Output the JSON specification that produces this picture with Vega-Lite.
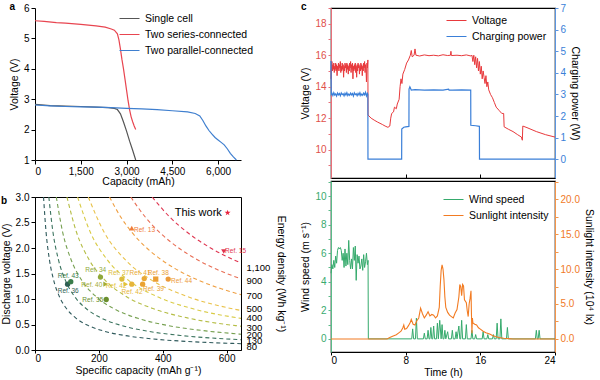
{
"$schema": "https://vega.github.io/schema/vega-lite/v6.json",
"padding": {"left": 0, "top": 1, "right": 0, "bottom": 0},
"config": {
  "font": "Liberation Sans",
  "axis": {"grid": false, "labelFontSize": 10, "titleFontSize": 10.5, "titleFontWeight": "normal", "tickColor": "black", "domainColor": "black", "labelColor": "black", "titleColor": "black", "tickSize": 4, "labelPadding": 2, "titlePadding": 4},
  "legend": {"labelFontSize": 10.5, "labelColor": "black", "symbolType": "stroke", "symbolStrokeWidth": 2, "symbolSize": 400, "rowPadding": 0, "labelOffset": 5},
  "title": {"anchor": "start", "frame": "bounds", "fontSize": 10, "fontWeight": "bold", "offset": -9},
  "line": {"strokeWidth": 1}
},
"datasets": {
  "a": [
    {"s":"Single cell","c":0,"v":2.83},{"s":"Single cell","c":500,"v":2.79},{"s":"Single cell","c":1000,"v":2.77},{"s":"Single cell","c":1500,"v":2.76},{"s":"Single cell","c":2000,"v":2.74},{"s":"Single cell","c":2400,"v":2.72},{"s":"Single cell","c":2600,"v":2.70},{"s":"Single cell","c":2700,"v":2.66},{"s":"Single cell","c":2800,"v":2.52},{"s":"Single cell","c":2900,"v":2.25},{"s":"Single cell","c":3000,"v":1.95},{"s":"Single cell","c":3100,"v":1.62},{"s":"Single cell","c":3200,"v":1.32},{"s":"Single cell","c":3300,"v":1.0},
    {"s":"Two series-connected","c":0,"v":5.58},{"s":"Two series-connected","c":300,"v":5.56},{"s":"Two series-connected","c":700,"v":5.52},{"s":"Two series-connected","c":1000,"v":5.50},{"s":"Two series-connected","c":1500,"v":5.46},{"s":"Two series-connected","c":2000,"v":5.41},{"s":"Two series-connected","c":2300,"v":5.37},{"s":"Two series-connected","c":2500,"v":5.31},{"s":"Two series-connected","c":2600,"v":5.27},{"s":"Two series-connected","c":2700,"v":5.15},{"s":"Two series-connected","c":2750,"v":4.95},{"s":"Two series-connected","c":2800,"v":4.65},{"s":"Two series-connected","c":2850,"v":4.30},{"s":"Two series-connected","c":2900,"v":4.00},{"s":"Two series-connected","c":2950,"v":3.65},{"s":"Two series-connected","c":3000,"v":3.30},{"s":"Two series-connected","c":3050,"v":2.95},{"s":"Two series-connected","c":3100,"v":2.65},{"s":"Two series-connected","c":3150,"v":2.42},{"s":"Two series-connected","c":3200,"v":2.26},{"s":"Two series-connected","c":3250,"v":2.12},{"s":"Two series-connected","c":3300,"v":2.0},
    {"s":"Two parallel-connected","c":0,"v":2.81},{"s":"Two parallel-connected","c":500,"v":2.78},{"s":"Two parallel-connected","c":1000,"v":2.76},{"s":"Two parallel-connected","c":1500,"v":2.75},{"s":"Two parallel-connected","c":2000,"v":2.74},{"s":"Two parallel-connected","c":2500,"v":2.72},{"s":"Two parallel-connected","c":3000,"v":2.70},{"s":"Two parallel-connected","c":3500,"v":2.68},{"s":"Two parallel-connected","c":4000,"v":2.66},{"s":"Two parallel-connected","c":4500,"v":2.62},{"s":"Two parallel-connected","c":5000,"v":2.58},{"s":"Two parallel-connected","c":5250,"v":2.53},{"s":"Two parallel-connected","c":5400,"v":2.45},{"s":"Two parallel-connected","c":5500,"v":2.30},{"s":"Two parallel-connected","c":5600,"v":2.12},{"s":"Two parallel-connected","c":5700,"v":1.97},{"s":"Two parallel-connected","c":5800,"v":1.85},{"s":"Two parallel-connected","c":5900,"v":1.74},{"s":"Two parallel-connected","c":6000,"v":1.66},{"s":"Two parallel-connected","c":6100,"v":1.58},{"s":"Two parallel-connected","c":6200,"v":1.50},{"s":"Two parallel-connected","c":6300,"v":1.37},{"s":"Two parallel-connected","c":6400,"v":1.22},{"s":"Two parallel-connected","c":6500,"v":1.10},{"s":"Two parallel-connected","c":6600,"v":1.0}
  ],
  "curves": [
    {"E":80,"c":26.7,"v":3},{"E":80,"c":34.7,"v":2.308},{"E":80,"c":45.1,"v":1.775},{"E":80,"c":58.6,"v":1.365},{"E":80,"c":76.2,"v":1.05},{"E":80,"c":99,"v":0.808},{"E":80,"c":128.8,"v":0.621},{"E":80,"c":167.4,"v":0.478},{"E":80,"c":217.4,"v":0.368},{"E":80,"c":282.7,"v":0.283},{"E":80,"c":367,"v":0.218},{"E":80,"c":479,"v":0.167},{"E":80,"c":620.2,"v":0.129},{"E":80,"c":645,"v":0.124},
    {"E":130,"c":43.3,"v":3},{"E":130,"c":56.3,"v":2.308},{"E":130,"c":73.2,"v":1.775},{"E":130,"c":95.2,"v":1.365},{"E":130,"c":123.8,"v":1.05},{"E":130,"c":160.9,"v":0.808},{"E":130,"c":209.3,"v":0.621},{"E":130,"c":272,"v":0.478},{"E":130,"c":353.3,"v":0.368},{"E":130,"c":459.4,"v":0.283},{"E":130,"c":596.3,"v":0.218},{"E":130,"c":645,"v":0.2016},
    {"E":200,"c":66.7,"v":3},{"E":200,"c":86.7,"v":2.308},{"E":200,"c":112.7,"v":1.775},{"E":200,"c":146.5,"v":1.365},{"E":200,"c":190.5,"v":1.05},{"E":200,"c":247.5,"v":0.808},{"E":200,"c":322.1,"v":0.621},{"E":200,"c":418.4,"v":0.478},{"E":200,"c":543.5,"v":0.368},{"E":200,"c":645,"v":0.31},
    {"E":300,"c":100,"v":3},{"E":300,"c":130,"v":2.308},{"E":300,"c":169,"v":1.775},{"E":300,"c":219.8,"v":1.365},{"E":300,"c":285.7,"v":1.05},{"E":300,"c":371.3,"v":0.808},{"E":300,"c":483.1,"v":0.621},{"E":300,"c":627.6,"v":0.478},{"E":300,"c":645,"v":0.465},
    {"E":400,"c":133.3,"v":3},{"E":400,"c":173.3,"v":2.308},{"E":400,"c":225.4,"v":1.775},{"E":400,"c":293,"v":1.365},{"E":400,"c":381,"v":1.05},{"E":400,"c":495,"v":0.808},{"E":400,"c":645,"v":0.62},
    {"E":500,"c":166.7,"v":3},{"E":500,"c":216.6,"v":2.308},{"E":500,"c":281.7,"v":1.775},{"E":500,"c":366.3,"v":1.365},{"E":500,"c":476.2,"v":1.05},{"E":500,"c":618.8,"v":0.808},{"E":500,"c":645,"v":0.775},
    {"E":700,"c":233.3,"v":3},{"E":700,"c":269.2,"v":2.6},{"E":700,"c":303.3,"v":2.308},{"E":700,"c":350,"v":2.0},{"E":700,"c":394.4,"v":1.775},{"E":700,"c":437.5,"v":1.6},{"E":700,"c":512.8,"v":1.365},{"E":700,"c":583.3,"v":1.2},{"E":700,"c":645,"v":1.085},
    {"E":900,"c":300,"v":3},{"E":900,"c":346.2,"v":2.6},{"E":900,"c":390,"v":2.308},{"E":900,"c":450,"v":2.0},{"E":900,"c":507,"v":1.775},{"E":900,"c":562.5,"v":1.6},{"E":900,"c":645,"v":1.395},
    {"E":1100,"c":366.7,"v":3},{"E":1100,"c":423.1,"v":2.6},{"E":1100,"c":476.6,"v":2.308},{"E":1100,"c":550,"v":2.0},{"E":1100,"c":619.7,"v":1.775},{"E":1100,"c":645,"v":1.705}
  ],
  "refs": [
    {"id":"r36","label":"Ref. 36","c":102,"v":1.29,"lc":104,"lv":1.16},
    {"id":"r43","label":"Ref. 43","c":112,"v":1.34,"lc":104,"lv":1.45},
    {"id":"r34","label":"Ref. 34","c":205,"v":1.43,"lc":190,"lv":1.56},
    {"id":"r40","label":"Ref. 40","c":221,"v":1.29,"lc":178,"lv":1.28},
    {"id":"r35","label":"Ref. 35","c":223,"v":0.99,"lc":181,"lv":0.99},
    {"id":"r37","label":"Ref. 37","c":272,"v":1.39,"lc":262,"lv":1.51},
    {"id":"r42a","label":"Ref. 42","c":284,"v":1.29,"lc":254,"lv":1.25},
    {"id":"r42b","label":"Ref. 42","c":303,"v":1.29,"lc":304,"lv":1.14},
    {"id":"r41","label":"Ref. 41","c":342,"v":1.40,"lc":329,"lv":1.51},
    {"id":"r39","label":"Ref. 39","c":337,"v":1.29,"lc":371,"lv":1.19},
    {"id":"r38","label":"Ref. 38","c":378,"v":1.39,"lc":386,"lv":1.51},
    {"id":"r44","label":"Ref. 44","c":417,"v":1.39,"lc":459,"lv":1.36},
    {"id":"r13","label":"Ref. 13","c":303,"v":2.39,"lc":343,"lv":2.35},
    {"id":"r15","label":"Ref. 15","c":591,"v":1.93,"lc":628,"lv":1.95}
  ],
  "elab": [
    {"e":"1,100","v":1.62},{"e":"900","v":1.36},{"e":"700","v":1.07},{"e":"500","v":0.81},{"e":"400","v":0.63},{"e":"300","v":0.45},{"e":"200","v":0.30},{"e":"130","v":0.18},{"e":"80","v":0.06}
  ],
  "volt": [
    {"t":0,"v":14.5},{"t":0.05,"v":15.3},{"t":0.1,"v":15.6},{"t":0.15,"v":15.0},{"t":0.2,"v":15.4},{"t":0.25,"v":15.1},{"t":0.3,"v":15.5},{"t":0.35,"v":14.9},{"t":0.4,"v":15.3},{"t":0.45,"v":15.1},{"t":0.5,"v":15.5},{"t":0.55,"v":15.0},{"t":0.6,"v":15.4},{"t":0.65,"v":14.7},{"t":0.7,"v":15.3},{"t":0.75,"v":15.1},{"t":0.8,"v":15.5},{"t":0.85,"v":15.0},{"t":0.9,"v":15.4},{"t":0.95,"v":15.2},{"t":1.0,"v":15.6},{"t":1.05,"v":14.9},{"t":1.1,"v":15.3},{"t":1.15,"v":15.0},{"t":1.2,"v":15.5},{"t":1.25,"v":15.1},{"t":1.3,"v":15.4},{"t":1.35,"v":14.6},{"t":1.4,"v":15.3},{"t":1.45,"v":15.0},{"t":1.5,"v":15.5},{"t":1.55,"v":15.2},{"t":1.6,"v":15.4},{"t":1.65,"v":14.9},{"t":1.7,"v":15.5},{"t":1.75,"v":15.1},{"t":1.8,"v":15.4},{"t":1.85,"v":14.8},{"t":1.9,"v":15.3},{"t":1.95,"v":15.0},{"t":2.0,"v":15.5},{"t":2.05,"v":15.2},{"t":2.1,"v":15.6},{"t":2.15,"v":14.9},{"t":2.2,"v":15.4},{"t":2.25,"v":15.1},{"t":2.3,"v":15.5},{"t":2.35,"v":14.5},{"t":2.4,"v":15.3},{"t":2.45,"v":15.0},{"t":2.5,"v":15.4},{"t":2.55,"v":15.1},{"t":2.6,"v":15.5},{"t":2.65,"v":14.9},{"t":2.7,"v":15.3},{"t":2.75,"v":14.6},{"t":2.8,"v":15.4},{"t":2.85,"v":15.0},{"t":2.9,"v":15.5},{"t":2.95,"v":15.2},{"t":3.0,"v":15.4},{"t":3.05,"v":14.8},{"t":3.1,"v":15.3},{"t":3.15,"v":15.0},{"t":3.2,"v":15.5},{"t":3.25,"v":15.1},{"t":3.3,"v":15.4},{"t":3.35,"v":14.7},{"t":3.4,"v":15.3},{"t":3.45,"v":15.0},{"t":3.5,"v":15.5},{"t":3.55,"v":15.2},{"t":3.6,"v":15.6},{"t":3.65,"v":14.9},{"t":3.7,"v":15.4},{"t":3.75,"v":15.1},{"t":3.8,"v":14.3},{"t":3.85,"v":15.5},{"t":3.9,"v":15.2},{"t":3.95,"v":15.7},{"t":3.97,"v":12.2},
    {"t":4.3,"v":12.0},{"t":4.7,"v":11.85},{"t":5.0,"v":11.75},{"t":5.5,"v":11.6},{"t":5.8,"v":11.5},{"t":6.1,"v":11.42},{"t":6.3,"v":11.5},{"t":6.4,"v":12.0},{"t":6.5,"v":12.3},{"t":6.7,"v":12.4},{"t":6.8,"v":12.7},{"t":7.0,"v":12.6},{"t":7.1,"v":12.9},{"t":7.3,"v":13.2},{"t":7.4,"v":14.0},{"t":7.5,"v":14.5},{"t":7.6,"v":14.2},{"t":7.7,"v":14.8},{"t":7.9,"v":15.1},{"t":8.1,"v":15.5},{"t":8.3,"v":15.7},{"t":8.5,"v":16.0},{"t":8.6,"v":16.3},{"t":8.7,"v":15.9},{"t":8.9,"v":16.0},{"t":9.0,"v":16.4},{"t":9.1,"v":16.0},{"t":9.5,"v":15.95},{"t":10,"v":16.02},{"t":10.5,"v":15.97},{"t":11,"v":16.0},{"t":11.5,"v":15.96},{"t":12,"v":16.03},{"t":12.5,"v":15.98},{"t":12.8,"v":16.0},{"t":12.85,"v":16.25},{"t":12.9,"v":15.98},{"t":13.5,"v":16.0},{"t":14,"v":15.97},{"t":14.5,"v":16.02},{"t":15.0,"v":15.95},{"t":15.1,"v":16.0},
    {"t":15.2,"v":15.6},{"t":15.3,"v":16.0},{"t":15.4,"v":15.4},{"t":15.5,"v":15.9},{"t":15.6,"v":15.2},{"t":15.7,"v":15.8},{"t":15.8,"v":15.0},{"t":15.9,"v":15.6},{"t":16.0,"v":14.8},{"t":16.1,"v":15.3},{"t":16.2,"v":14.5},{"t":16.3,"v":15.0},{"t":16.4,"v":14.6},{"t":16.5,"v":14.2},{"t":16.6,"v":14.7},{"t":16.7,"v":14.0},{"t":16.8,"v":14.3},{"t":16.9,"v":13.8},{"t":17.1,"v":13.5},{"t":17.3,"v":13.3},{"t":17.5,"v":13.0},{"t":17.7,"v":12.7},{"t":18.0,"v":12.5},{"t":18.3,"v":12.3},{"t":18.5,"v":12.3},{"t":18.55,"v":11.45},{"t":19.0,"v":11.3},{"t":19.5,"v":11.15},{"t":20.0,"v":10.95},{"t":20.4,"v":10.8},{"t":20.5,"v":10.6},{"t":20.55,"v":11.5},{"t":21.0,"v":11.4},{"t":22.0,"v":11.15},{"t":23.0,"v":10.95},{"t":24.0,"v":10.8}
  ],
  "power": [
    {"t":0,"p":4.55},{"t":0.03,"p":3.0},{"t":0.1,"p":3.05},{"t":0.2,"p":2.95},{"t":0.3,"p":3.08},{"t":0.4,"p":2.97},{"t":0.5,"p":3.02},{"t":0.6,"p":2.92},{"t":0.7,"p":3.06},{"t":0.8,"p":2.98},{"t":0.9,"p":3.04},{"t":1.0,"p":2.94},{"t":1.1,"p":3.07},{"t":1.2,"p":2.99},{"t":1.3,"p":3.03},{"t":1.4,"p":2.93},{"t":1.5,"p":3.05},{"t":1.6,"p":2.97},{"t":1.7,"p":3.08},{"t":1.8,"p":2.95},{"t":1.9,"p":3.02},{"t":2.0,"p":2.96},{"t":2.1,"p":3.06},{"t":2.2,"p":2.98},{"t":2.3,"p":3.04},{"t":2.4,"p":2.92},{"t":2.5,"p":3.07},{"t":2.6,"p":2.99},{"t":2.7,"p":3.03},{"t":2.8,"p":2.94},{"t":2.9,"p":3.05},{"t":3.0,"p":2.97},{"t":3.1,"p":3.08},{"t":3.2,"p":2.95},{"t":3.3,"p":3.02},{"t":3.4,"p":2.96},{"t":3.5,"p":3.06},{"t":3.6,"p":2.98},{"t":3.7,"p":3.1},{"t":3.8,"p":2.93},{"t":3.9,"p":3.05},{"t":3.95,"p":3.0},{"t":3.96,"p":0},{"t":7.57,"p":0},{"t":7.58,"p":1.4},{"t":7.8,"p":1.48},{"t":8.0,"p":1.5},{"t":8.35,"p":1.52},{"t":8.36,"p":3.25},{"t":8.45,"p":3.35},{"t":8.6,"p":3.2},{"t":9,"p":3.22},{"t":10,"p":3.2},{"t":11,"p":3.21},{"t":12,"p":3.2},{"t":12.6,"p":3.24},{"t":12.65,"p":3.2},{"t":13,"p":3.2},{"t":14,"p":3.21},{"t":14.97,"p":3.2},{"t":14.98,"p":1.57},{"t":15.5,"p":1.55},{"t":15.9,"p":1.52},{"t":15.91,"p":0},{"t":24,"p":0}
  ],
  "wind": [
    {"t":0,"w":4.6},{"t":0.1,"w":5.2},{"t":0.2,"w":4.9},{"t":0.3,"w":5.5},{"t":0.4,"w":5.0},{"t":0.5,"w":5.8},{"t":0.6,"w":5.3},{"t":0.7,"w":6.2},{"t":0.8,"w":6.4},{"t":0.9,"w":6.3},{"t":1.0,"w":6.4},{"t":1.1,"w":6.2},{"t":1.2,"w":5.5},{"t":1.3,"w":6.0},{"t":1.4,"w":5.0},{"t":1.5,"w":6.3},{"t":1.6,"w":5.1},{"t":1.7,"w":6.0},{"t":1.8,"w":5.2},{"t":1.9,"w":6.9},{"t":2.0,"w":5.5},{"t":2.1,"w":4.9},{"t":2.2,"w":5.6},{"t":2.3,"w":4.9},{"t":2.4,"w":6.4},{"t":2.5,"w":5.5},{"t":2.6,"w":6.5},{"t":2.7,"w":4.1},{"t":2.8,"w":5.9},{"t":2.9,"w":5.3},{"t":3.0,"w":5.8},{"t":3.1,"w":4.9},{"t":3.2,"w":5.1},{"t":3.3,"w":5.6},{"t":3.4,"w":4.8},{"t":3.5,"w":5.9},{"t":3.6,"w":5.0},{"t":3.7,"w":5.4},{"t":3.8,"w":6.0},{"t":3.9,"w":5.2},{"t":3.97,"w":5.5},{"t":4.0,"w":0},
    {"t":8.65,"w":0},{"t":8.75,"w":0.7},{"t":8.85,"w":0},{"t":9.05,"w":0},{"t":9.15,"w":1.45},{"t":9.25,"w":0},{"t":9.9,"w":0},{"t":10.0,"w":0.4},{"t":10.1,"w":0},{"t":10.3,"w":0},{"t":10.4,"w":0.6},{"t":10.5,"w":0},{"t":10.6,"w":0},{"t":10.7,"w":0.8},{"t":10.8,"w":0},{"t":10.9,"w":0},{"t":11.0,"w":0.9},{"t":11.1,"w":0},{"t":11.3,"w":0},{"t":11.4,"w":1.1},{"t":11.5,"w":0},{"t":11.65,"w":1.3},{"t":11.8,"w":0},{"t":11.9,"w":1.0},{"t":12.0,"w":0},{"t":12.1,"w":0},{"t":12.2,"w":0.6},{"t":12.3,"w":0},{"t":12.5,"w":0.5},{"t":12.6,"w":0},{"t":12.9,"w":0},{"t":13.0,"w":0.6},{"t":13.1,"w":0},{"t":13.3,"w":0},{"t":13.4,"w":0.5},{"t":13.5,"w":0},{"t":13.7,"w":0.9},{"t":13.8,"w":0},{"t":13.9,"w":0},{"t":14.0,"w":1.3},{"t":14.1,"w":0},{"t":14.4,"w":0},{"t":14.5,"w":1.0},{"t":14.6,"w":0},{"t":15.0,"w":0},{"t":15.1,"w":0.6},{"t":15.2,"w":0},{"t":15.4,"w":0},{"t":15.5,"w":0.3},{"t":15.6,"w":0},{"t":16.2,"w":0},{"t":16.3,"w":0.5},{"t":16.4,"w":0},{"t":16.7,"w":0},{"t":16.8,"w":0.3},{"t":16.9,"w":0},{"t":17.3,"w":0},{"t":17.4,"w":0.3},{"t":17.5,"w":0},{"t":17.7,"w":0},{"t":17.8,"w":1.1},{"t":17.9,"w":0},{"t":18.1,"w":0},{"t":18.2,"w":1.4},{"t":18.3,"w":0},{"t":18.8,"w":0},{"t":18.9,"w":0.8},{"t":19.0,"w":0},{"t":21.9,"w":0},{"t":22.0,"w":0.6},{"t":22.1,"w":0},{"t":22.2,"w":0},{"t":22.3,"w":0.6},{"t":22.4,"w":0},{"t":24,"w":0}
  ],
  "sun": [
    {"t":0,"z":0},{"t":6.0,"z":0},{"t":6.3,"z":0.2},{"t":6.6,"z":0.4},{"t":7.0,"z":0.6},{"t":7.3,"z":0.9},{"t":7.5,"z":1.1},{"t":7.7,"z":1.6},{"t":7.8,"z":2.0},{"t":7.9,"z":1.4},{"t":8.1,"z":1.5},{"t":8.3,"z":1.9},{"t":8.5,"z":2.4},{"t":8.6,"z":2.8},{"t":8.8,"z":2.1},{"t":9.0,"z":2.0},{"t":9.2,"z":2.6},{"t":9.4,"z":3.0},{"t":9.6,"z":4.4},{"t":9.8,"z":3.6},{"t":10.0,"z":3.0},{"t":10.2,"z":3.4},{"t":10.4,"z":3.9},{"t":10.6,"z":3.3},{"t":10.8,"z":3.5},{"t":11.0,"z":3.4},{"t":11.2,"z":3.0},{"t":11.4,"z":3.3},{"t":11.6,"z":4.5},{"t":11.7,"z":7.5},{"t":11.8,"z":9.8},{"t":11.9,"z":10.6},{"t":12.0,"z":10.0},{"t":12.1,"z":8.5},{"t":12.2,"z":6.0},{"t":12.3,"z":4.5},{"t":12.5,"z":3.8},{"t":12.7,"z":3.4},{"t":12.9,"z":3.2},{"t":13.1,"z":3.0},{"t":13.3,"z":3.7},{"t":13.5,"z":4.2},{"t":13.7,"z":6.0},{"t":13.8,"z":7.8},{"t":13.9,"z":7.5},{"t":14.0,"z":6.2},{"t":14.1,"z":7.8},{"t":14.2,"z":7.6},{"t":14.3,"z":5.6},{"t":14.5,"z":5.2},{"t":14.6,"z":4.0},{"t":14.7,"z":3.2},{"t":14.8,"z":5.0},{"t":14.9,"z":5.8},{"t":15.0,"z":6.9},{"t":15.05,"z":3.5},{"t":15.1,"z":0.8},{"t":15.15,"z":3.0},{"t":15.2,"z":2.3},{"t":15.4,"z":2.1},{"t":15.6,"z":2.0},{"t":15.8,"z":1.6},{"t":16.0,"z":1.4},{"t":16.3,"z":1.1},{"t":16.6,"z":0.9},{"t":17.0,"z":0.7},{"t":17.3,"z":0.5},{"t":17.6,"z":0.35},{"t":18.0,"z":0.2},{"t":18.5,"z":0.1},{"t":19.0,"z":0.05},{"t":19.5,"z":0},{"t":24,"z":0}
  ]
},
"hconcat": [
  {
    "vconcat": [
      {
        "title": {"text": "a"},
        "width": 206, "height": 152,
        "view": {"stroke": null},
        "data": {"name": "a"},
        "mark": {"type": "line", "strokeWidth": 1.2},
        "encoding": {
          "x": {"field": "c", "type": "quantitative", "scale": {"domain": [0, 6750], "nice": false}, "axis": {"values": [0, 1500, 3000, 4500, 6000], "format": ",.0f", "title": "Capacity (mAh)", "titlePadding": 0}},
          "y": {"field": "v", "type": "quantitative", "scale": {"domain": [1, 6], "nice": false}, "axis": {"values": [1, 2, 3, 4, 5, 6], "title": "Voltage (V)"}},
          "color": {"field": "s", "type": "nominal", "scale": {"domain": ["Single cell", "Two series-connected", "Two parallel-connected"], "range": ["#555555", "#e84550", "#3f7fcf"]}, "legend": {"title": null, "orient": "none", "legendX": 84, "legendY": 0}}
        }
      },
      {
        "title": {"text": "b", "offset": -14},
        "width": 206, "height": 153,
        "view": {"stroke": "black", "strokeWidth": 1},
        "resolve": {"axis": {"y": "independent"}},
        "layer": [
          {
            "data": {"name": "curves"},
            "mark": {"type": "line", "strokeDash": [4, 3], "strokeWidth": 1.1, "interpolate": "monotone", "clip": true},
            "encoding": {
              "x": {"field": "c", "type": "quantitative", "scale": {"domain": [0, 645], "nice": false}, "axis": {"values": [0, 100, 200, 300, 400, 500, 600], "title": "Specific capacity (mAh g⁻¹)", "tickSize": 3, "labelPadding": 0, "titlePadding": 2}},
              "y": {"field": "v", "type": "quantitative", "scale": {"domain": [0, 3], "nice": false}, "axis": {"values": [0, 0.5, 1, 1.5, 2, 2.5, 3], "format": ".1f", "title": "Discharge voltage (V)"}},
              "stroke": {"field": "E", "type": "ordinal", "scale": {"domain": [80, 130, 200, 300, 400, 500, 700, 900, 1100], "range": ["#2f5a5c", "#3d7560", "#76a050", "#b5bd45", "#d9cb45", "#e9c24a", "#efa044", "#e86e55", "#df3550"]}, "legend": null}
            }
          },
          {
            "data": {"name": "refs"},
            "mark": {"type": "point", "filled": true, "opacity": 1, "size": 28},
            "encoding": {
              "x": {"field": "c", "type": "quantitative"},
              "y": {"field": "v", "type": "quantitative", "axis": null},
              "color": {"field": "id", "type": "nominal", "scale": {"domain": ["r36","r43","r34","r40","r35","r37","r42a","r42b","r41","r39","r38","r44","r13","r15"], "range": ["#2d5e52","#3a7d4a","#8fa83a","#a3ad35","#6b8f2e","#dcbc3c","#e3c33a","#e6b53a","#e9a935","#eaa232","#eb9e34","#ec9a3a","#f07c3a","#e2334f"]}, "legend": null},
              "shape": {"field": "id", "type": "nominal", "scale": {"domain": ["r36","r43","r34","r40","r35","r37","r42a","r42b","r41","r39","r38","r44","r13","r15"], "range": ["circle","circle","circle","triangle-right","circle","circle","triangle-right","circle","circle","circle","square","circle","triangle-up","triangle-down"]}, "legend": null}
            }
          },
          {
            "data": {"name": "refs"},
            "mark": {"type": "text", "fontSize": 6.5},
            "encoding": {
              "x": {"field": "lc", "type": "quantitative"},
              "y": {"field": "lv", "type": "quantitative", "axis": null},
              "text": {"field": "label"},
              "color": {"field": "id", "type": "nominal", "legend": null}
            }
          },
          {
            "data": {"values": [{"c": 603, "v": 2.69}]},
            "mark": {"type": "point", "filled": true, "opacity": 1, "size": 40, "color": "#e8233f", "shape": "M0,-1L0.224,-0.309L0.951,-0.309L0.363,0.118L0.588,0.809L0,0.382L-0.588,0.809L-0.363,0.118L-0.951,-0.309L-0.224,-0.309Z"},
            "encoding": {
              "x": {"field": "c", "type": "quantitative"},
              "y": {"field": "v", "type": "quantitative", "axis": null}
            }
          },
          {
            "data": {"values": [{"c": 585, "v": 2.69, "t": "This work"}]},
            "mark": {"type": "text", "fontSize": 11, "align": "right", "color": "black"},
            "encoding": {
              "x": {"field": "c", "type": "quantitative"},
              "y": {"field": "v", "type": "quantitative", "axis": null},
              "text": {"field": "t"}
            }
          },
          {
            "data": {"name": "elab"},
            "mark": {"type": "point", "opacity": 0},
            "encoding": {
              "y": {"field": "v", "type": "quantitative", "axis": {"orient": "right", "values": [1.62, 1.36, 1.07, 0.81, 0.63, 0.45, 0.3, 0.18, 0.06], "labelExpr": "datum.value == 1.62 ? '1,100' : datum.value == 1.36 ? '900' : datum.value == 1.07 ? '700' : datum.value == 0.81 ? '500' : datum.value == 0.63 ? '400' : datum.value == 0.45 ? '300' : datum.value == 0.3 ? '200' : datum.value == 0.18 ? '130' : '80'", "ticks": false, "domain": false, "labelPadding": 5, "labelFontSize": 9.5, "labelBound": false, "labelOverlap": false, "title": "Energy density (Wh kg⁻¹)", "titlePadding": 6}}
            }
          }
        ]
      }
    ],
    "spacing": 4,
    "resolve": {"scale": {"color": "independent", "shape": "independent", "stroke": "independent"}, "legend": {"color": "independent", "shape": "independent"}}
  },
  {
    "vconcat": [
      {
        "title": {"text": "c"},
        "width": 224, "height": 170,
        "view": {"stroke": "black", "strokeWidth": 1.2},
        "resolve": {"scale": {"y": "independent"}},
        "layer": [
          {
            "data": {"name": "volt"},
            "mark": {"type": "line", "strokeWidth": 1},
            "encoding": {
              "x": {"field": "t", "type": "quantitative", "scale": {"domain": [0, 24], "nice": false}, "axis": {"values": [0, 2, 4, 6, 8, 10, 12, 14, 16, 18, 20, 22, 24], "labels": false, "title": null, "tickSize": -4}},
              "y": {"field": "v", "type": "quantitative", "scale": {"domain": [8.2, 19], "nice": false}, "axis": {"values": [9, 10, 11, 12, 13, 14, 15, 16, 17, 18, 19], "labelExpr": "datum.value % 2 == 0 ? datum.label : ''", "labelColor": "#e0504a", "domainColor": "#e8707a", "tickColor": "#e8707a", "tickSize": 3, "title": "Voltage (V)"}},
              "color": {"datum": "Voltage", "type": "nominal", "scale": {"domain": ["Voltage", "Charging power"], "range": ["#e8393c", "#3a7fd8"]}, "legend": {"title": null, "orient": "none", "legendX": 115, "legendY": 2}}
            }
          },
          {
            "data": {"name": "power"},
            "mark": {"type": "line", "strokeWidth": 1.2},
            "encoding": {
              "x": {"field": "t", "type": "quantitative"},
              "y": {"field": "p", "type": "quantitative", "scale": {"domain": [-0.87, 7], "nice": false}, "axis": {"orient": "right", "values": [0, 1, 2, 3, 4, 5, 6, 7], "labelColor": "#3a7fd8", "domainColor": "#5b95e0", "tickColor": "#5b95e0", "tickSize": 3, "title": "Charging power (W)"}},
              "color": {"datum": "Charging power", "type": "nominal"}
            }
          }
        ]
      },
      {
        "width": 224, "height": 171,
        "view": {"stroke": "black", "strokeWidth": 1.2},
        "resolve": {"scale": {"y": "independent"}},
        "layer": [
          {
            "data": {"name": "wind"},
            "transform": [{"fold": ["w"]}],
            "mark": {"type": "line", "strokeWidth": 1},
            "encoding": {
              "x": {"field": "t", "type": "quantitative", "scale": {"domain": [0, 24], "nice": false}, "axis": {"values": [0, 2, 4, 6, 8, 10, 12, 14, 16, 18, 20, 22, 24], "labelExpr": "datum.value % 4 == 0 ? datum.label : ''", "title": "Time (h)", "tickSize": 3, "labelPadding": 0, "titlePadding": 2}},
              "y": {"field": "value", "type": "quantitative", "scale": {"domain": [-0.92, 11.06], "nice": false}, "axis": {"values": [0, 1, 2, 3, 4, 5, 6, 7, 8, 9, 10, 11], "labelExpr": "datum.value % 2 == 0 ? datum.label : ''", "labelColor": "#3aaa6e", "domainColor": "#5abb88", "tickColor": "#5abb88", "tickSize": 3, "title": "Wind speed (m s⁻¹)"}},
              "color": {"field": "key", "type": "nominal", "scale": {"domain": ["w", "z"], "range": ["#35aa6c", "#f27b22"]}, "legend": {"title": null, "orient": "none", "legendX": 112, "legendY": 8, "labelExpr": "datum.value == 'w' ? 'Wind speed' : 'Sunlight intensity'", "encode": {"symbols": {"update": {"stroke": [{"test": "datum.value == 'w'", "value": "#35aa6c"}, {"value": "#f27b22"}]}}}}}
            }
          },
          {
            "data": {"name": "sun"},
            "transform": [{"fold": ["z"]}],
            "mark": {"type": "line", "strokeWidth": 1.1},
            "encoding": {
              "x": {"field": "t", "type": "quantitative"},
              "y": {"field": "value", "type": "quantitative", "scale": {"domain": [-1.87, 22.6], "nice": false}, "axis": {"orient": "right", "values": [0, 2.5, 5, 7.5, 10, 12.5, 15, 17.5, 20, 22.5], "format": ".1f", "labelExpr": "datum.value % 5 == 0 ? datum.label : ''", "labelColor": "#f07a28", "domainColor": "#f4954a", "tickColor": "#f4954a", "tickSize": 3, "title": "Sunlight intensity (10⁴ lx)"}},
              "color": {"field": "key", "type": "nominal"}
            }
          }
        ]
      }
    ],
    "spacing": 0,
    "resolve": {"scale": {"color": "independent"}, "legend": {"color": "independent"}}
  }
],
"spacing": 13,
"resolve": {"scale": {"color": "independent", "shape": "independent", "stroke": "independent"}, "legend": {"color": "independent", "shape": "independent"}}
}
